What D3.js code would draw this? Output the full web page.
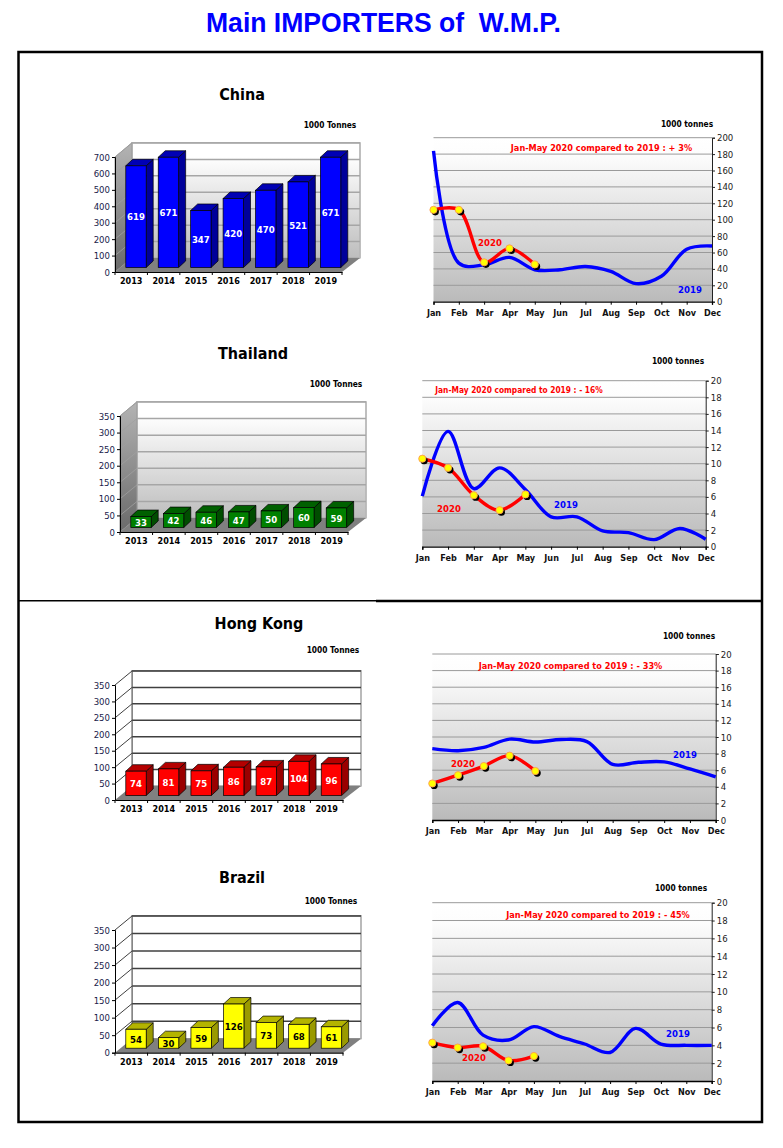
<!DOCTYPE html>
<html>
<head>
<meta charset="utf-8">
<style>
html,body{margin:0;padding:0;background:#fff}
svg{display:block}
text{font-family:"DejaVu Sans Condensed","DejaVu Sans",sans-serif;font-stretch:condensed}
</style>
<script src="https://cdn.jsdelivr.net/npm/d3@7"></script>
</head>
<body>
<svg id="page" width="783" height="1148"></svg>
<script>
// Annual imports, thousand tonnes
const years = ["2013","2014","2015","2016","2017","2018","2019"];
const months = ["Jan","Feb","Mar","Apr","May","Jun","Jul","Aug","Sep","Oct","Nov","Dec"];
const chinaAnnual = [619,671,347,420,470,521,671];
const thailandAnnual = [33,42,46,47,50,60,59];
const hongKongAnnual = [74,81,75,86,87,104,96];
const brazilAnnual = [54,30,59,126,73,68,61];

// Monthly imports, thousand tonnes
const china2019 = [184,47,45,54,39,39,43,37,22,31,64,68];
const china2020 = [112,112,48,65,45.5];
const thailand2019 = [6.1,13.9,7,9.5,6.9,3.6,3.6,1.9,1.7,0.85,2.2,0.9];
const thailand2020 = [10.6,9.5,6.2,4.4,6.3];
const hongKong2019 = [8.6,8.35,8.75,9.75,9.4,9.7,9.45,6.7,6.95,7,6.15,5.2];
const hongKong2020 = [4.4,5.4,6.5,7.75,5.9];
const brazil2019 = [6.2,8.8,5.15,4.6,6.1,5,4.15,3.2,5.9,4.15,4,4];
const brazil2020 = [4.3,3.75,3.9,2.3,2.8];

const annualTicks = {china:d3.range(0,701,100), other:d3.range(0,351,50)};
const monthlyTicksChina = d3.range(0,201,20);
const monthlyTicks = d3.range(0,21,2);

const svg = d3.select("#page");
const defs = svg.append("defs");

function vGrad(id, stops){
  const g = defs.append("linearGradient").attr("id",id)
    .attr("x1",0).attr("y1",0).attr("x2",0).attr("y2",1);
  stops.forEach(s=>g.append("stop").attr("offset",s[0]).attr("stop-color",s[1]));
}
vGrad("wallFade",[[0,"#ffffff"],[0.12,"#ffffff"],[1,"#bdbdbd"]]);
vGrad("plotFade",[[0,"#ffffff"],[0.1,"#fdfdfd"],[1,"#bababa"]]);
vGrad("sideFade",[[0,"#b4b4b4"],[1,"#6a6a6a"]]);

svg.append("text").attr("x",383.5).attr("y",32).attr("text-anchor","middle")
  .style("font-family","'Liberation Sans',Arial,sans-serif").style("font-weight","bold").style("font-stretch","normal")
  .style("font-size","28px").attr("fill","#0000ff").attr("xml:space","preserve")
  .attr("textLength",355).attr("lengthAdjust","spacingAndGlyphs")
  .text("Main IMPORTERS of  W.M.P.");

// Outer frames
const frame = svg.append("g").attr("fill","none").attr("stroke","#000");
frame.append("rect").attr("x",18.5).attr("y",52).attr("width",743.5).attr("height",1070).attr("stroke-width",2.5);
frame.append("line").attr("x1",18).attr("x2",376).attr("y1",600.7).attr("y2",600.7).attr("stroke-width",1.6);
frame.append("line").attr("x1",376).attr("x2",762).attr("y1",601).attr("y2",601).attr("stroke-width",2.6);

function txt(g,x,y,s,size,fill,weight,anchor){
  return g.append("text").attr("x",x).attr("y",y).attr("dy","0.35em")
    .attr("text-anchor",anchor||"middle").style("font-size",size+"px")
    .style("font-weight",weight||"bold").attr("fill",fill).text(s);
}

const WDX = 17, WDY = -14, BDX = 7, BDY = -6.5, LIFT = 4.5;

function barPanel(cfg){
  const g = svg.append("g");
  const x = d3.scaleBand().domain(years).range([cfg.x0,cfg.x1]).paddingInner(0).paddingOuter(0);
  const y = d3.scaleLinear().domain(cfg.domain).range([cfg.y0,cfg.yTop]);
  const [wl,wr] = [cfg.x0+WDX,cfg.x1+WDX+1];
  const wallTop = cfg.yTop+WDY-0.3, wallBot = cfg.y0+WDY;

  // back wall, side wall and floor
  g.append("rect").attr("x",wl).attr("y",wallTop).attr("width",wr-wl).attr("height",wallBot-wallTop)
    .attr("fill",cfg.plain?"#fff":"url(#wallFade)").attr("stroke",cfg.plain?"#8a8a8a":"#aaa").attr("stroke-width",1.2);
  g.append("path").attr("d",`M${cfg.x0},${cfg.yTop}L${wl},${wallTop}L${wl},${wallBot}L${cfg.x0},${cfg.y0}Z`)
    .attr("fill",cfg.plain?"#fff":"url(#sideFade)").attr("stroke",cfg.plain?"none":"#999");
  g.append("path").attr("d",`M${cfg.x0},${cfg.y0}L${wl},${wallBot}L${wr},${wallBot}L${cfg.x1},${cfg.y0}Z`)
    .attr("fill","#808080");
  g.append("line").attr("x1",wr).attr("x2",wr).attr("y1",wallTop).attr("y2",wallBot)
    .attr("stroke","#bbb").attr("stroke-width",1.5);

  // gridlines on both walls
  const gridColour = cfg.plain?"#404040":"#a6a6a6";
  cfg.ticks.filter(t=>t>0).forEach(t=>{
    g.append("line").attr("x1",wl).attr("x2",wr).attr("y1",y(t)+WDY).attr("y2",y(t)+WDY)
      .attr("stroke",gridColour).attr("stroke-width",1.5);
    g.append("line").attr("x1",cfg.x0).attr("x2",wl).attr("y1",y(t)).attr("y2",y(t)+WDY)
      .attr("stroke",cfg.plain?"#404040":"#a0a0a0").attr("stroke-width",cfg.plain?1:0.8);
  });
  if(cfg.plain){
    g.append("line").attr("x1",wl).attr("x2",wl).attr("y1",wallTop).attr("y2",wallBot).attr("stroke","#555");
    g.append("line").attr("x1",wl).attr("x2",wr).attr("y1",wallTop).attr("y2",wallTop).attr("stroke","#555").attr("stroke-width",1.2);
  }

  // 3-D columns
  const barLeft = d => x(d)+10.8, barW = 20.4;
  const cols = g.selectAll("g.col").data(years.map((yr,i)=>({yr,v:cfg.values[i]}))).join("g").attr("class","col");
  const topOf = d => y(d.v)-LIFT, baseOf = () => y(0)-LIFT;
  cols.append("path")
    .attr("d",d=>`M${barLeft(d.yr)+barW},${baseOf()}l${BDX},${BDY}V${topOf(d)+BDY}l${-BDX},${-BDY}Z`)
    .attr("fill",cfg.side).attr("stroke","#000").attr("stroke-width",0.7);
  cols.append("path")
    .attr("d",d=>`M${barLeft(d.yr)},${topOf(d)}l${BDX},${BDY}h${barW}l${-BDX},${-BDY}Z`)
    .attr("fill",cfg.top).attr("stroke","#000").attr("stroke-width",0.7);
  cols.append("rect").attr("x",d=>barLeft(d.yr)).attr("width",barW)
    .attr("y",d=>topOf(d)).attr("height",d=>baseOf()-topOf(d))
    .attr("fill",cfg.front).attr("stroke","#000").attr("stroke-width",0.7);
  cols.each(function(d){
    txt(d3.select(this),barLeft(d.yr)+barW/2,(topOf(d)+baseOf())/2+0.5,d.v,9.5,cfg.labelColour);
  });

  // axes
  const axL = g.append("g").attr("transform",`translate(${cfg.x0},0)`)
    .call(d3.axisLeft(y).tickValues(cfg.ticks).tickSize(3).tickPadding(2).tickFormat(d3.format("d")));
  axL.selectAll("text").style("font-size","9.5px").attr("fill","#1a1a4a");
  axL.selectAll("line,path").attr("stroke","#000").attr("stroke-width",1);
  const axB = g.append("g").attr("transform",`translate(0,${cfg.y0})`)
    .call(d3.axisBottom(x).tickSize(0).tickPadding(5.5));
  axB.selectAll("text").style("font-size","9px").style("font-weight","bold").attr("fill","#000");
  axB.select("path").attr("stroke","#000").attr("stroke-width",1.2);
  years.forEach(yr=>{
    g.append("line").attr("x1",x(yr)+x.step()).attr("x2",x(yr)+x.step()).attr("y1",cfg.y0).attr("y2",cfg.y0+3).attr("stroke","#000");
  });
  g.append("line").attr("x1",cfg.x0).attr("x2",cfg.x0).attr("y1",cfg.y0).attr("y2",cfg.y0+3).attr("stroke","#000");

  txt(g,cfg.title[0],cfg.title[1],cfg.name,16,"#000");
  txt(g,cfg.unit[0],cfg.unit[1],"1000 Tonnes",8.3,"#000");
}

function linePanel(cfg){
  const g = svg.append("g");
  const x = d3.scalePoint().domain(months).range([cfg.x0,cfg.x1]);
  const y = d3.scaleLinear().domain(cfg.domain).range([cfg.y0,cfg.yTop]);
  g.append("rect").attr("x",cfg.x0).attr("y",cfg.yTop).attr("width",cfg.x1-cfg.x0).attr("height",cfg.y0-cfg.yTop)
    .attr("fill","url(#plotFade)");
  cfg.ticks.filter(t=>t>0).forEach(t=>{
    g.append("line").attr("x1",cfg.x0).attr("x2",cfg.x1).attr("y1",y(t)).attr("y2",y(t))
      .attr("stroke","#9a9a9a").attr("stroke-width",1);
  });

  const axR = g.append("g").attr("transform",`translate(${cfg.x1},0)`)
    .call(d3.axisRight(y).tickValues(cfg.ticks).tickSize(3).tickPadding(2).tickFormat(d3.format("d")));
  axR.selectAll("text").style("font-size","9.5px").attr("fill","#222");
  axR.selectAll("line,path").attr("stroke","#222").attr("stroke-width",1);
  const axB = g.append("g").attr("transform",`translate(0,${cfg.y0})`)
    .call(d3.axisBottom(x).tickSize(3).tickPadding(4.5));
  axB.selectAll("text").style("font-size","9px").style("font-weight","bold").attr("fill","#111");
  axB.selectAll("line").attr("stroke","#000");
  axB.select("path").attr("stroke","#000").attr("stroke-width",1.3);

  // Smoothed lines with a centripetal spline, which keeps overshoot small on steep drops
  const line = d3.line().x((d,i)=>x(months[i])).y(d=>y(d)).curve(d3.curveCatmullRom.alpha(0.5));
  g.append("path").attr("d",line(cfg.last)).attr("fill","none").attr("stroke","#0000ff").attr("stroke-width",3.4);
  g.append("path").attr("d",line(cfg.current)).attr("fill","none").attr("stroke","#ff0000").attr("stroke-width",3.4);
  const pts = cfg.current.map((v,i)=>({m:months[i],v}));
  g.selectAll("circle.shadow").data(pts).join("circle").attr("class","shadow")
    .attr("cx",d=>x(d.m)+1.8).attr("cy",d=>y(d.v)+2).attr("r",3.6).attr("fill","#000");
  g.selectAll("circle.dot").data(pts).join("circle").attr("class","dot")
    .attr("cx",d=>x(d.m)).attr("cy",d=>y(d.v)).attr("r",3.6)
    .attr("fill","#ffff00").attr("stroke","#ff9a50").attr("stroke-width",0.9);

  txt(g,cfg.note[0],cfg.note[1],cfg.note[2],cfg.note[3],"#ff0000");
  txt(g,cfg.tag20[0],cfg.tag20[1],"2020",9.5,"#ff0000");
  txt(g,cfg.tag19[0],cfg.tag19[1],"2019",9.5,"#0000ff");
  txt(g,cfg.unit[0],cfg.unit[1],"1000 tonnes",8.3,"#000");
}

barPanel({name:"China",values:chinaAnnual,domain:[0,700],ticks:annualTicks.china,
  x0:115,x1:342,y0:272,yTop:157,plain:false,
  front:"#0000ff",side:"#00009a",top:"#0000b4",labelColour:"#fff",title:[242,94],unit:[330,125]});
barPanel({name:"Thailand",values:thailandAnnual,domain:[0,350],ticks:annualTicks.other,
  x0:120,x1:348,y0:532,yTop:416,plain:false,
  front:"#008000",side:"#004d00",top:"#006000",labelColour:"#fff",title:[253,353],unit:[336,384]});
barPanel({name:"Hong Kong",values:hongKongAnnual,domain:[0,350],ticks:annualTicks.other,
  x0:115,x1:343,y0:800,yTop:685,plain:true,
  front:"#ff0000",side:"#9a0000",top:"#b40000",labelColour:"#fff",title:[259,623],unit:[333,650]});
barPanel({name:"Brazil",values:brazilAnnual,domain:[0,350],ticks:annualTicks.other,
  x0:115,x1:343,y0:1052.7,yTop:930,plain:true,
  front:"#ffff00",side:"#9a9a00",top:"#b4b400",labelColour:"#000",title:[242,877],unit:[331,901]});

linePanel({last:china2019,current:china2020,domain:[0,200],ticks:monthlyTicksChina,
  x0:433.5,x1:712,y0:301.7,yTop:137.7,
  note:[601.5,148,"Jan-May 2020 compared to 2019 : + 3%",9.1],tag20:[490,243],tag19:[690,290],unit:[687,124.5]});
linePanel({last:thailand2019,current:thailand2020,domain:[0,20],ticks:monthlyTicks,
  x0:422.3,x1:705.7,y0:546.7,yTop:380.7,
  note:[519,390,"Jan-May 2020 compared to 2019 : - 16%",8.3],tag20:[449,509],tag19:[566,505],unit:[678,361]});
linePanel({last:hongKong2019,current:hongKong2020,domain:[0,20],ticks:monthlyTicks,
  x0:432.3,x1:715.7,y0:820,yTop:654,
  note:[570.5,666,"Jan-May 2020 compared to 2019 : - 33%",9.1],tag20:[463,764],tag19:[685,755],unit:[689,636.5]});
linePanel({last:brazil2019,current:brazil2020,domain:[0,20],ticks:monthlyTicks,
  x0:432.3,x1:711.7,y0:1081,yTop:902.7,
  note:[598,915,"Jan-May 2020 compared to 2019 : - 45%",9.1],tag20:[474,1058],tag19:[678,1034],unit:[681,888.5]});
</script>
</body>
</html>
